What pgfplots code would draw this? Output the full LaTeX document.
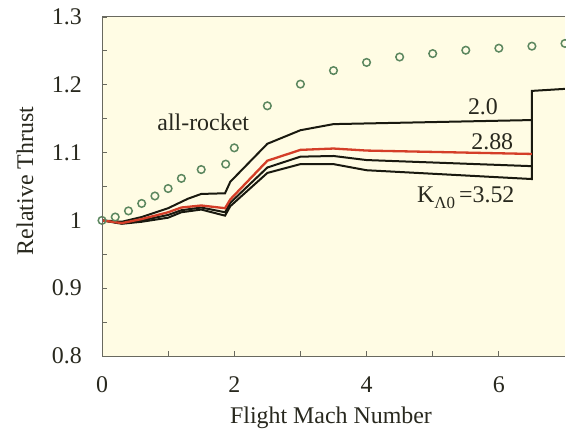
\documentclass[border=0pt]{standalone}
\usepackage{fontspec}
\setmainfont{Liberation Serif}
\usepackage{pgfplots}
\pgfplotsset{compat=1.18}
\definecolor{bg}{RGB}{255,252,228}
\definecolor{frame}{RGB}{105,105,95}
\definecolor{txt}{RGB}{40,40,30}
\definecolor{redc}{RGB}{212,62,40}
\definecolor{circ}{RGB}{92,135,95}
\definecolor{blk}{RGB}{25,25,15}
\begin{document}
\fontsize{24}{28}\selectfont
\begin{tikzpicture}
\begin{axis}[
  at={(0,0)}, anchor=south west,
  scale only axis, width=463bp, height=339bp,
  xmin=0, xmax=7, ymin=0.8, ymax=1.3,
  axis background/.style={fill=bg},
  axis line style={draw=none},
  xtick={0,2,4,6}, minor xtick={1,3,5},
  ytick={0.8,0.9,1.0,1.1,1.2,1.3}, minor ytick={0.85,0.95,1.05,1.15,1.25},
  tick align=inside, xtick pos=left, ytick pos=left,
  major tick length=5bp, minor tick length=5bp,
  every tick/.style={frame, line width=0.8bp},
  ticklabel style={text=txt, font=\fontsize{24}{28}\selectfont},
  /pgf/number format/assume math mode=true,
  xticklabel style={anchor=center, yshift=-29bp},
  yticklabel style={anchor=east, xshift=-12bp},
]
\addplot[blk, line width=2bp] coordinates {(0,1.0) (0.3,0.998) (0.6,1.005) (1.0,1.018) (1.3,1.032) (1.5,1.039) (1.86,1.040) (1.94,1.057) (2.5,1.113) (3.0,1.133) (3.5,1.142) (4.0,1.143) (6.5,1.148)};
\addplot[blk, line width=2bp] coordinates {(0,1.0) (0.3,0.996) (0.6,1.0) (1.0,1.008) (1.2,1.015) (1.5,1.019) (1.86,1.012) (1.94,1.026) (2.5,1.078) (3.0,1.094) (3.5,1.095) (4.0,1.089) (6.5,1.080)};
\addplot[blk, line width=2bp] coordinates {(0,1.0) (0.3,0.995) (0.6,0.998) (1.0,1.004) (1.2,1.012) (1.5,1.016) (1.86,1.007) (1.94,1.021) (2.5,1.070) (3.0,1.083) (3.5,1.083) (4.0,1.074) (6.5,1.061) (6.5,1.191) (7,1.194)};
\addplot[redc, line width=2.3bp] coordinates {(0,1.0) (0.3,0.996) (0.6,1.002) (1.0,1.012) (1.2,1.019) (1.5,1.022) (1.86,1.018) (1.94,1.031) (2.5,1.088) (3.0,1.104) (3.5,1.106) (4.0,1.103) (6.5,1.098)};
\addplot[only marks, mark=o, mark size=3.8bp, mark options={circ, line width=1.5bp}] coordinates {(0,1.0) (0.2,1.005) (0.4,1.014) (0.6,1.025) (0.8,1.036) (1.0,1.047) (1.2,1.062) (1.5,1.075) (1.87,1.083) (2.0,1.107) (2.5,1.169) (3.0,1.201) (3.5,1.221) (4.0,1.233) (4.5,1.241) (5.0,1.246) (5.5,1.251) (6.0,1.254) (6.5,1.257) (7.0,1.261)};
\node[text=txt] at (axis cs:1.53,1.145) {all-rocket};
\node[text=txt] at (axis cs:5.76,1.167) {2.0};
\node[text=txt] at (axis cs:5.90,1.116) {2.88};
\node[text=txt] at (axis cs:5.5,1.033) {K\raisebox{-0.55ex}{\fontsize{17}{20}\selectfont Λ0}\,=3.52};
\end{axis}
\draw[frame, line width=1bp] (463bp,339bp) -- (0,339bp) -- (0,0) -- (463bp,0);
\node[rotate=90, text=txt] at (-77bp,175bp) {Relative Thrust};
\node[text=txt] at (229bp,-62bp) {Flight Mach Number};
\pgfresetboundingbox
\useasboundingbox (-102bp,-73bp) rectangle (464bp,356bp);
\end{tikzpicture}
\end{document}
